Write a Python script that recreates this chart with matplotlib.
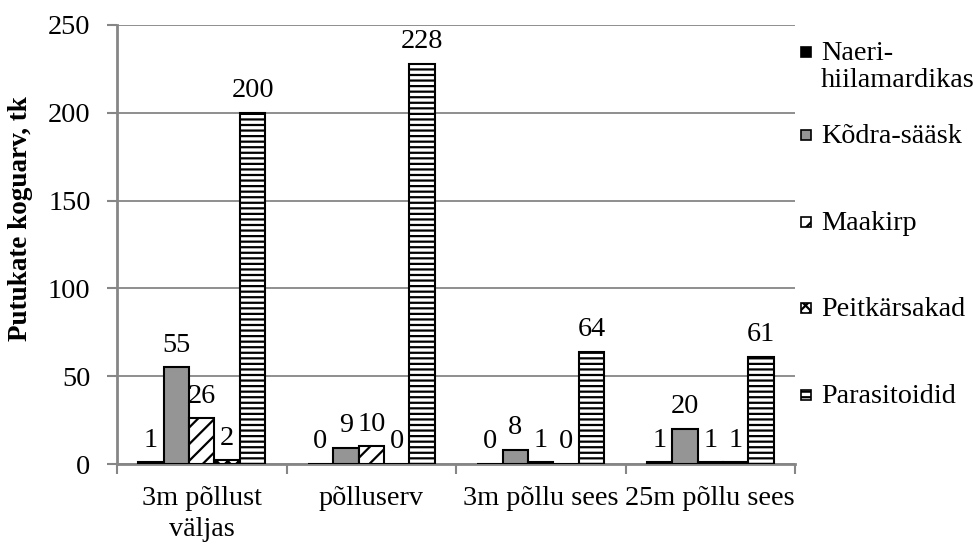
import matplotlib
matplotlib.use("Agg")
import matplotlib.pyplot as plt
import numpy as np
from matplotlib.patches import Rectangle

categories = ["3m põllust\nväljas", "põlluserv", "3m põllu sees", "25m põllu sees"]
series_names = ["Naeri-\nhiilamardikas", "Kõdra-sääsk", "Maakirp", "Peitkärsakad", "Parasitoidid"]
naeri = [1, 0, 0, 1]
kodra = [55, 9, 8, 20]
maakirp = [26, 10, 1, 1]
peit = [2, 0, 0, 1]
parasit = [200, 228, 64, 61]
values = [naeri, kodra, maakirp, peit, parasit]
y_ticks = [0, 50, 100, 150, 200, 250]

styles = [
    dict(facecolor="black", hatch=None),
    dict(facecolor="#959595", hatch=None),
    dict(facecolor="white", hatch="//"),
    dict(facecolor="white", hatch="xxx"),
    dict(facecolor="white", hatch="---"),
]

plt.rcParams["font.family"] = ["Liberation Serif", "DejaVu Serif"]
plt.rcParams["hatch.linewidth"] = 1.6
fs = 20.3
grey = "#868686"

fig = plt.figure(figsize=(9.77, 5.44), dpi=100)
ax = fig.add_axes([117 / 977, 80 / 544, 678 / 977, 439 / 544])

x = np.arange(len(categories))
w = 0.15
for i, (vals, st) in enumerate(zip(values, styles)):
    pos = x + (i - 2) * w
    ax.bar(pos, vals, width=w, facecolor=st["facecolor"], edgecolor="black",
           hatch=st["hatch"], linewidth=1.5, zorder=3)
    for xp, v in zip(pos, vals):
        ax.annotate(str(v), (xp, v), xytext=(0, 7), textcoords="offset points",
                    ha="center", va="bottom", fontsize=fs, zorder=4)

ax.set_xlim(-0.5, len(categories) - 0.5)
ax.set_ylim(0, 250)
ax.set_yticks(y_ticks)
ax.set_yticklabels([str(t) for t in y_ticks], fontsize=fs)
ax.yaxis.grid(True, color=grey, linewidth=1.3, zorder=0)
ax.set_axisbelow(True)

ax.set_xticks(np.arange(-0.5, len(categories), 1.0))
ax.set_xticklabels([])
ax.set_xticks(x, minor=True)
ax.set_xticklabels(categories, minor=True, fontsize=fs, linespacing=1.28)
ax.tick_params(axis="x", which="minor", length=0, pad=16)
ax.tick_params(axis="x", which="major", length=7, width=1.5, color=grey, direction="out")
ax.tick_params(axis="y", length=7, width=1.5, color=grey, direction="out", pad=12)

for s in ["top", "right"]:
    ax.spines[s].set_visible(False)
for s in ["left", "bottom"]:
    ax.spines[s].set_color(grey)
    ax.spines[s].set_linewidth(2)

ax.set_ylabel("Putukate koguarv, tk", fontsize=19.5, fontweight="bold")
ax.yaxis.set_label_coords(-0.124, 0.56)

# legend (manual layout to match reference spacing)
leg_y = [52, 135, 222, 308, 395]
for name, st, yy in zip(series_names, styles, leg_y):
    yf = 1 - yy / 544
    r = Rectangle((801 / 977, yf - 5 / 544), 10 / 977, 10 / 544, transform=fig.transFigure,
                  facecolor=st["facecolor"], edgecolor="black", hatch=st["hatch"],
                  linewidth=1.2)
    fig.add_artist(r)
    fig.text(821 / 977, yf + 11 / 544, name, fontsize=fs, va="top", ha="left",
             linespacing=1.1)

fig.savefig("out.png", dpi=100)
